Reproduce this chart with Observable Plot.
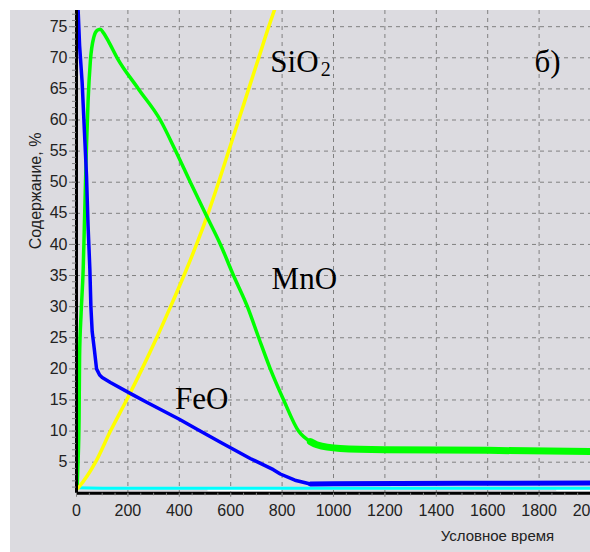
<!DOCTYPE html>
<html><head><meta charset="utf-8">
<script src="https://cdn.jsdelivr.net/npm/d3@7"></script>
<script src="https://cdn.jsdelivr.net/npm/@observablehq/plot@0.6"></script>
<style>
body{margin:0;background:#fff;}
#wrap{position:relative;width:590px;height:552px;overflow:hidden;}
#panel{position:absolute;left:10px;top:10px;right:0;bottom:0;background:#dcdbe0;}
#chart{position:absolute;left:0;top:0;}
</style></head><body>
<div id="wrap"><div id="panel"></div><div id="chart"></div></div>
<script>
// ---- data ----
const xTicks = [0, 200, 400, 600, 800, 1000, 1200, 1400, 1600, 1800, 2000];
const yTicks = [5, 10, 15, 20, 25, 30, 35, 40, 45, 50, 55, 60, 65, 70, 75];
const xTitle = "Условное время";
const yTitle = "Содержание, %";

const feoTime  = [0, 6, 12, 22, 31, 39, 45, 52, 56, 61, 70, 78, 90, 100, 132, 216, 275, 400, 469, 560, 676, 766, 793, 850, 910, 1000, 1500, 2000];
const feoValue = [100, 78, 72, 66, 58, 51, 43, 36, 30, 26, 22.9, 20, 19, 18.6, 17.8, 15.9, 14.6, 11.9, 10.3, 8.2, 5.6, 3.8, 3.1, 2.1, 1.5, 1.55, 1.6, 1.65];

const mnoTime  = [3, 6, 10, 12, 18, 26, 30, 39, 45, 54, 68, 80, 92, 105, 125, 158, 241, 326, 385, 443, 501, 560, 611, 665, 709, 754, 806, 864, 910, 935, 1026, 1200, 1600, 2000];
const mnoValue = [1.5, 5, 12, 22, 29, 36, 42, 56, 63, 69.5, 73.4, 74.4, 74.6, 74.0, 72.6, 70, 65, 60, 55.1, 50, 45, 40, 35, 30, 25, 20, 15, 10, 8.3, 7.8, 7.2, 7.0, 6.9, 6.7];

const sio2Time  = [0, 9, 74, 132, 195, 255, 312, 366, 418, 467, 512, 553, 592, 631, 670, 709, 748, 790];
const sio2Value = [0.6, 1.0, 5, 10, 15, 20, 25, 30, 35, 40, 45, 50, 55, 60, 65, 70, 75, 80];

const cyanTime  = [0, 100, 1000, 2000];
const cyanValue = [0.9, 0.8, 0.8, 0.8];

const whiteTime  = [513, 793, 1870, 2000];
const whiteValue = [0.5, 0.5, 0.5, 0.5];
const whiteSeg   = [1, 1, 2, 2];

const annotLabels = ["SiO", "MnO", "FeO", "б)"];
const annotTime   = [754, 759, 383, 1782];
const annotValue  = [67.66, 32.87, 13.47, 67.66];
const subLabels = ["2"];
const subTime   = [950];
const subValue  = [67.15];

// ---- tables ----
const toRows = (T, V) => T.map((t, i) => ({t, v: V[i]}));
const feo = toRows(feoTime, feoValue);
const mno = toRows(mnoTime, mnoValue);
const sio2 = toRows(sio2Time, sio2Value);
const cyan = toRows(cyanTime, cyanValue);
const white = whiteTime.map((t, i) => ({t, v: whiteValue[i], seg: whiteSeg[i]}));
const annots = annotLabels.map((s, i) => ({s, t: annotTime[i], v: annotValue[i]}));
const subs = subLabels.map((s, i) => ({s, t: subTime[i], v: subValue[i]}));
const xMinor = d3.range(0, 2001, 50);
const yMinor = d3.range(1, 78, 1);

const serif = "'Liberation Serif', 'Times New Roman', serif";
const gridStyle = {stroke: "#808080", strokeOpacity: 1, strokeDasharray: "4,4", strokeWidth: 1};
const plain = d => String(d);
const none = () => "";

const chart = Plot.plot({
  width: 590, height: 552,
  marginLeft: 76, marginRight: 0, marginTop: 10, marginBottom: 59.2,
  style: {background: "transparent", fontFamily: "'Liberation Sans', Arial, sans-serif", fontSize: "16px", overflow: "visible"},
  x: {domain: [0, 2000], label: null},
  y: {domain: [0, 77.6], label: null},
  marks: [
    Plot.gridY(yTicks, gridStyle),
    Plot.gridX(xTicks.filter(d => d > 0), gridStyle),
    Plot.line(white, {x: "t", y: "v", z: "seg", stroke: "#ffffff", strokeWidth: 2, clip: true}),
    Plot.line(cyan, {x: "t", y: "v", stroke: "#00ffff", strokeWidth: 3, clip: true}),
    Plot.line(sio2, {x: "t", y: "v", stroke: "#ffff00", strokeWidth: 3.5, curve: "monotone-x", clip: true}),
    Plot.line(mno, {x: "t", y: "v", stroke: "#00ff00", strokeWidth: 3.5, curve: "monotone-x", clip: true}),
    Plot.line(mno.filter(d => d.t >= 910), {x: "t", y: "v", stroke: "#00ff00", strokeWidth: 7, curve: "monotone-x", clip: true}),
    Plot.line(feo, {x: "t", y: "v", stroke: "#0000ff", strokeWidth: 3.5, clip: true}),
    Plot.line(feo.filter(d => d.t >= 905), {x: "t", y: "v", stroke: "#0000ff", strokeWidth: 5, clip: true}),
    Plot.ruleX([0], {stroke: "black", strokeWidth: 3}),
    Plot.ruleY([0], {stroke: "black", strokeWidth: 3}),
    Plot.axisY(yMinor, {tickSize: 4, tickFormat: none, color: "#808080", label: null}),
    Plot.axisY(yTicks, {tickSize: 7, tickFormat: none, color: "#808080", label: null}),
    Plot.axisY(yTicks, {tickSize: 0, tickPadding: 9, tickFormat: plain, color: "#222", fontSize: 16, label: null}),
    Plot.axisX(xMinor, {tickSize: 2.5, tickFormat: none, color: "#808080", label: null}),
    Plot.axisX(xTicks, {tickSize: 4, tickFormat: none, color: "#808080", label: null}),
    Plot.axisX(xTicks, {tickSize: 0, tickPadding: 11, tickFormat: plain, color: "#222", fontSize: 16, label: null}),
    Plot.text([yTitle], {frameAnchor: "left", y: [48.6], dx: -36, rotate: -90, textAnchor: "middle", lineAnchor: "bottom", fontSize: 16, fill: "#222"}),
    Plot.text([xTitle], {frameAnchor: "bottom", x: [1638], dy: 48, textAnchor: "middle", lineAnchor: "bottom", fontSize: 15, fill: "#222"}),
    Plot.text(annots, {x: "t", y: "v", text: "s", textAnchor: "start", lineAnchor: "bottom", fontSize: 31, fontFamily: serif, fill: "black"}),
    Plot.text(subs, {x: "t", y: "v", text: "s", textAnchor: "start", lineAnchor: "bottom", fontSize: 20, fontFamily: serif, fill: "black"})
  ]
});
document.getElementById("chart").appendChild(chart);
</script>
</body></html>
